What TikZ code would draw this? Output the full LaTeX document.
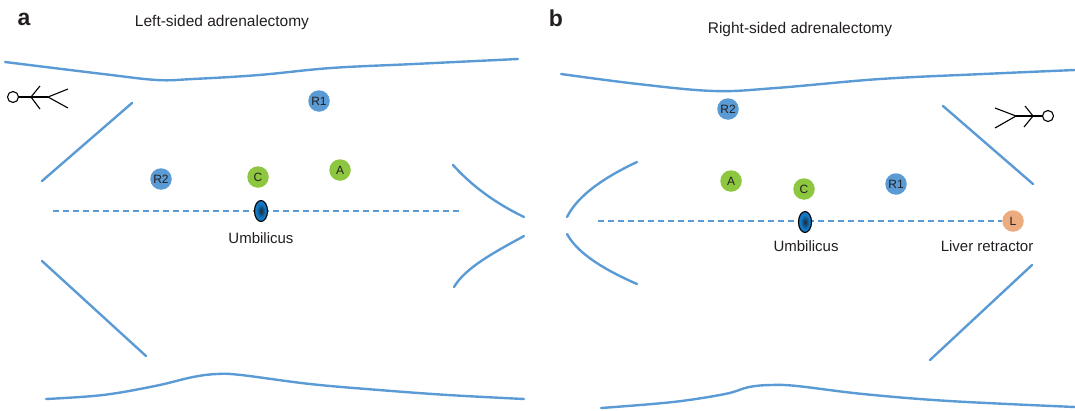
\documentclass[tikz,border=0pt]{standalone}
\usepackage{fontspec}
\setmainfont{Liberation Sans}
\usetikzlibrary{shapes.geometric}
\definecolor{wall}{RGB}{91,155,213}
\definecolor{portblue}{RGB}{91,155,213}
\definecolor{portgreen}{RGB}{141,198,63}
\definecolor{portorange}{RGB}{236,172,128}
\definecolor{ink}{RGB}{35,31,32}
\definecolor{navel}{RGB}{20,120,195}
% umbilicus: dark centre fading into a blue ring
\pgfdeclareradialshading{navelshade}{\pgfpoint{0bp}{0bp}}{%
  color(0bp)=(black!85); color(9bp)=(navel!70!black); color(17bp)=(navel);
  color(25bp)=(navel); color(50bp)=(navel)}
\tikzset{
  wallline/.style={draw=wall, line width=2.4pt, line cap=round},
  midline/.style={draw=wall, line width=2.4pt, dash pattern=on 6pt off 4pt},
  port/.style={circle, inner sep=0pt, minimum size=21.5pt, text=ink,
    font=\fontsize{12}{12}\selectfont},
  bport/.style={port, fill=portblue},
  gport/.style={port, fill=portgreen},
  oport/.style={port, fill=portorange},
  navelmark/.style={ellipse, draw=black, line width=1.1pt, inner sep=0pt,
    minimum width=13pt, minimum height=21pt, shading=navelshade},
  label/.style={text=ink, font=\fontsize{15}{15}\selectfont},
  panel/.style={text=ink, font=\fontsize{23}{23}\selectfont\bfseries},
  surgeon/.style={draw=black, line width=1.1pt}
}
\begin{document}
\begin{tikzpicture}[x=1pt, y=-1pt]
\useasboundingbox (0,0) rectangle (1075,410);

% ---------- panel a: left-sided adrenalectomy ----------
\node[panel] (pa) at (24,19) {a};
\node[label, font=\fontsize{15.5}{15.5}\selectfont] (ta) at (222,22) {Left-sided adrenalectomy};

% abdominal wall outline
\draw[wallline] plot[smooth, tension=0.6] coordinates {(5,62) (103,74) (157,80) (193,79) (259,75) (331,68) (414,64) (518,59)};
\draw[wallline] plot[smooth, tension=0.6] coordinates {(46,399) (103,395) (155,386) (193,377) (217,374) (241,375) (310,384) (379,390) (448,395) (524,399)};
\draw[wallline] (132,103) -- (42,181);
\draw[wallline] (42,261) -- (146,356);
\draw[wallline] (453,165) .. controls (472,186) and (495,203) .. (524,217);
\draw[wallline] (524,236) .. controls (495,252) and (466,267) .. (454,287);

% surgeon position
\node[circle, draw=black, line width=1.1pt, minimum size=11pt, inner sep=0pt] (sa) at (13,97) {};
\coordinate (sa1) at (31,97);
\coordinate (sa2) at (48,97);
\draw[surgeon] (sa.east) -- (sa2);
\draw[surgeon] (40,86) -- (sa1) -- (40,109);
\draw[surgeon] (68,89) -- (sa2) -- (68,108);

% midline and ports
\coordinate (mla) at (53,211);
\coordinate (mra) at (462,211);
\draw[midline] (mla) -- (mra);
\node[navelmark] (ua) at (261,211) {};
\node[label] (ula) at (261,238) {Umbilicus};
\node[bport] (r1a) at (319,101) {R1};
\node[bport] (r2a) at (161,179) {R2};
\node[gport] (ca) at (258,177) {C};
\node[gport] (aa) at (340,170) {A};

% ---------- panel b: right-sided adrenalectomy ----------
\node[panel] (pb) at (556,18) {b};
\node[label, font=\fontsize{15.5}{15.5}\selectfont] (tb) at (800,29) {Right-sided adrenalectomy};

\draw[wallline] plot[smooth, tension=0.6] coordinates {(561,74) (638,84) (714,91) (776,88) (880,79) (983,74) (1075,70)};
\draw[wallline] plot[smooth, tension=0.6] coordinates {(601,408) (673,402) (725,394) (749,387) (771,385) (797,386) (863,394) (949,401) (1075,407)};
\draw[wallline] (943,106) -- (1033,184);
\draw[wallline] (1032,265) -- (930,360);
\draw[wallline] (637,162) .. controls (605,177) and (578,195) .. (567,217);
\draw[wallline] (567,234) .. controls (578,254) and (605,270) .. (637,284);

% surgeon position
\node[circle, draw=black, line width=1.1pt, minimum size=11pt, inner sep=0pt] (sb) at (1048,116) {};
\coordinate (sb1) at (1033,116);
\coordinate (sb2) at (1016,116);
\draw[surgeon] (sb.west) -- (sb2);
\draw[surgeon] (1025,106) -- (sb1) -- (1024,127);
\draw[surgeon] (995,108) -- (sb2) -- (995,128);

% midline and ports
\coordinate (mlb) at (598,221);
\node[oport] (lb) at (1013,221) {L};
\draw[midline] (mlb) -- (lb.west);
\node[navelmark] (ub) at (805,222) {};
\node[label] (ulb) at (806,246) {Umbilicus};
\node[label] (llb) at (987,246) {Liver retractor};
\node[bport] (r2b) at (728,109) {R2};
\node[bport] (r1b) at (896,184) {R1};
\node[gport] (ab) at (731,181) {A};
\node[gport] (cb) at (804,189) {C};
\end{tikzpicture}
\end{document}
